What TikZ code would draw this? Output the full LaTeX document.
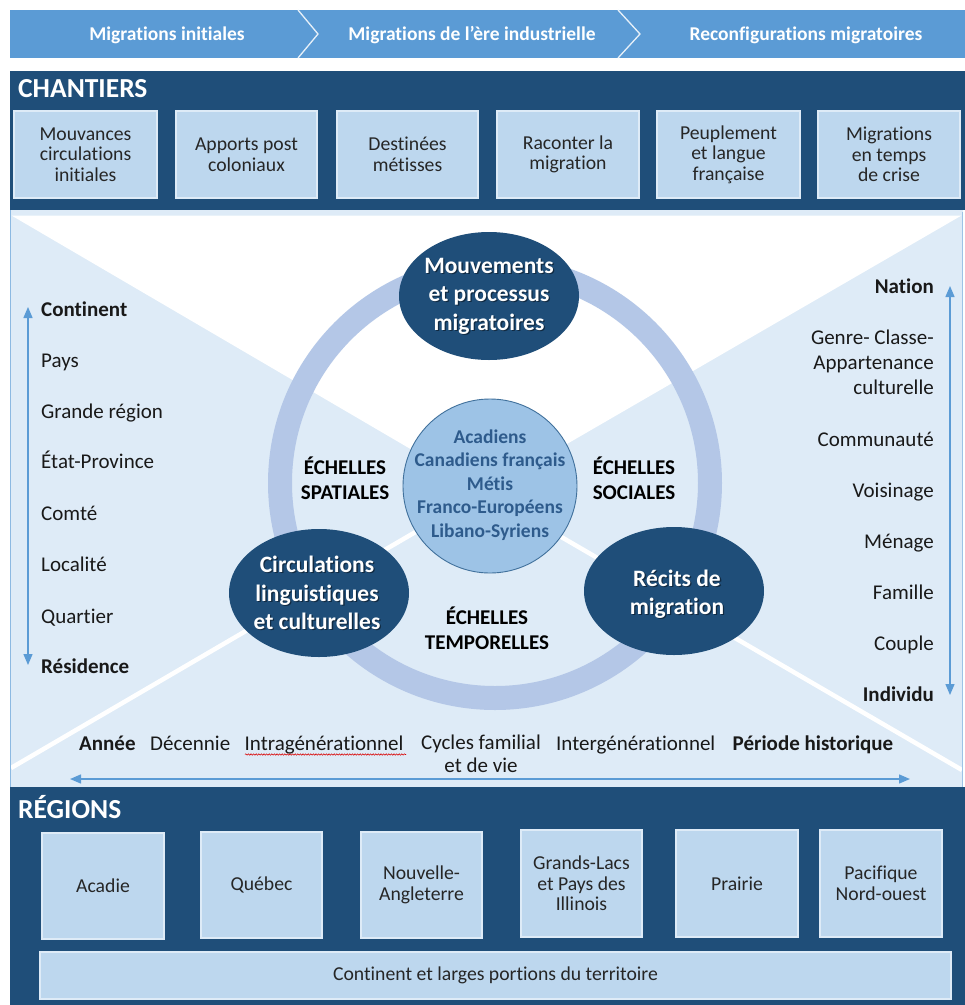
\documentclass[tikz,border=0pt]{standalone}
\usepackage{fontspec}
\setmainfont[Ligatures={NoCommon,NoRare},RawFeature=-liga,RawFeature=-dlig,RawFeature=-calt]{Carlito}
\usetikzlibrary{shapes.geometric,arrows.meta,decorations.pathmorphing}
\definecolor{navy}{HTML}{1F4E79}
\definecolor{midblue}{HTML}{5B9BD5}
\definecolor{boxblue}{HTML}{BDD7EE}
\definecolor{paleblue}{HTML}{DEEBF7}
\definecolor{ringblue}{HTML}{B4C7E7}
\definecolor{coreblue}{HTML}{9DC3E6}
\definecolor{coreedge}{HTML}{41719C}
\definecolor{coretext}{HTML}{2E5B8C}
\definecolor{boxtext}{HTML}{262626}
\newcommand\myfs[2]{\fontsize{#1}{#2}\selectfont}
\begin{document}
\begin{tikzpicture}[x=1pt,y=-1pt,
  bannertext/.style={text=white,font={\myfs{19.5}{23}\bfseries},inner sep=0pt,anchor=base},
  paneltitle/.style={text=white,font={\myfs{27.5}{32}\bfseries},inner sep=0pt,anchor=base west},
  cbox/.style={fill=boxblue,draw=paleblue,line width=1.2pt,text=boxtext,align=center,
     font={\myfs{19.7}{20.5}},inner sep=0pt},
  scalel/.style={text=black!90,font={\myfs{21}{25}},inner sep=0pt,anchor=base west},
  scaler/.style={text=black!90,font={\myfs{21}{25}},inner sep=0pt,anchor=base east},
  scaleb/.style={text=black!90,font={\myfs{21}{23}},inner sep=0pt,anchor=base west},
  strong/.style={font={\myfs{21}{25}\bfseries}},
  oval/.style={ellipse,fill=navy,inner sep=0pt,minimum width=180pt,minimum height=128pt},
  ovaltext/.style={text=white,align=center,font={\myfs{23.5}{28.5}\bfseries},inner sep=0pt},
  ovalshadow/.style={text=black,opacity=0.45,align=center,font={\myfs{23.5}{28.5}\bfseries},inner sep=0pt},
  echelle/.style={text=black,align=center,font={\myfs{21}{24.5}\bfseries},inner sep=0pt},
  scalearrow/.style={midblue,line width=1.4pt,{Triangle[length=11pt,width=9pt]}-{Triangle[length=11pt,width=9pt]}}
]
\useasboundingbox (0,0) rectangle (965,1005);

% ---------- top banner ----------
\fill[midblue] (10,10) rectangle (965,58);
\draw[white!85!midblue,line width=1.3pt] (298,10) -- (318,34) -- (298,58);
\draw[white!85!midblue,line width=1.3pt] (618,10) -- (640,34) -- (618,58);
\node[bannertext] (b1) at (167,40) {Migrations initiales};
\node[bannertext] (b2) at (472,40) {Migrations de l’ère industrielle};
\node[bannertext] (b3) at (806,40) {Reconfigurations migratoires};

% ---------- CHANTIERS ----------
\fill[navy] (10,71) rectangle (965,210);
\node[paneltitle] (chtitle) at (18,97) {CHANTIERS};
\node[cbox,minimum width=143pt,minimum height=87pt] (c1) at (85.5,154.5) {Mouvances\\circulations\\initiales};
\node[cbox,minimum width=141pt,minimum height=87pt] (c2) at (246.5,154.5) {Apports post\\coloniaux};
\node[cbox,minimum width=141pt,minimum height=87pt] (c3) at (407.5,154.5) {Destinées\\métisses};
\node[cbox,minimum width=142pt,minimum height=87pt] (c4) at (568,154.5) {Raconter la\\migration};
\node[cbox,minimum width=143pt,minimum height=87pt] (c5) at (728.5,154.5) {Peuplement\\et langue\\française};
\node[cbox,minimum width=142pt,minimum height=87pt] (c6) at (889,154.5) {Migrations\\en temps\\de crise};

% ---------- middle panel ----------
\fill[paleblue] (10,210) rectangle (963,787);
\coordinate (X) at (484,492);
\coordinate (tl) at (11.5,215.5);
\coordinate (tr) at (961.5,215.5);
\coordinate (blc) at (11,768);
\coordinate (brc) at (962,770);
\fill[white] (tl) -- (tr) -- (X) -- cycle;
\draw[white,line width=4.5pt] (X) -- (blc);
\draw[white,line width=4.5pt] (X) -- (brc);
\draw[midblue!70,line width=1.2pt] (10.6,210) -- (10.6,787);
\draw[coreblue,line width=1pt] (962.5,212) -- (962.5,787);

% ring
\node[circle,draw=ringblue,line width=24pt,minimum size=430pt,inner sep=0pt] (ring) at (495,483) {};

% center circle
\node[circle,fill=coreblue,draw=coreedge,line width=0.9pt,minimum size=174pt,inner sep=0pt] (core) at (490,486) {};
\node[text=coretext,align=center,font={\myfs{19.5}{23.5}\bfseries},inner sep=0pt] (coretxt) at (490,485)
  {Acadiens\\Canadiens français\\Métis\\Franco-Européens\\Libano-Syriens};

% ovals
\node[oval] (mouv) at (489,296) {};
\node[oval] (circ) at (319,593) {};
\node[oval] (recit) at (674,591) {};
\node[ovalshadow] (mouvsh) at ([shift={(1.3,1.3)}]mouv) {Mouvements\\et processus\\migratoires};
\node[ovaltext] (mouvtxt) at (mouv) {Mouvements\\et processus\\migratoires};
\node[ovalshadow] (circsh) at ([shift={(-0.7,1.3)}]circ) {Circulations\\linguistiques\\et culturelles};
\node[ovaltext] (circtxt) at ([shift={(-2,0)}]circ) {Circulations\\linguistiques\\et culturelles};
\node[ovalshadow] (recitsh) at ([shift={(4.3,4.3)}]recit) {Récits de\\migration};
\node[ovaltext] (recittxt) at ([shift={(3,3)}]recit) {Récits de\\migration};

% echelles
\node[echelle] (spat) at (345,478) {ÉCHELLES\\SPATIALES};
\node[echelle] (soc) at (634,478) {ÉCHELLES\\SOCIALES};
\node[echelle] (temp) at (487,628) {ÉCHELLES\\TEMPORELLES};

% left scale
\coordinate (lt) at (28,307);
\coordinate (lb) at (28,665);
\draw[scalearrow] (lt) -- (lb);
\node[scalel,strong] (l1) at (41,316) {Continent};
\node[scalel] (l2) at (41,367) {Pays};
\node[scalel] (l3) at (41,418) {Grande région};
\node[scalel] (l4) at (41,468) {État-Province};
\node[scalel] (l5) at (41,520) {Comté};
\node[scalel] (l6) at (41,571) {Localité};
\node[scalel] (l7) at (41,623) {Quartier};
\node[scalel,strong] (l8) at (41,673) {Résidence};

% right scale
\coordinate (rt) at (950,286);
\coordinate (rb) at (950,695);
\draw[scalearrow] (rt) -- (rb);
\node[scaler,strong] (r1) at (934,293) {Nation};
\node[text=black!90,font={\myfs{21}{25}},inner sep=0pt,align=right,anchor=east] (r2) at (934,362) {Genre- Classe-\\Appartenance\\culturelle};
\node[scaler] (r3) at (934,446) {Communauté};
\node[scaler] (r4) at (934,497) {Voisinage};
\node[scaler] (r5) at (934,548) {Ménage};
\node[scaler] (r6) at (934,599) {Famille};
\node[scaler] (r7) at (934,650) {Couple};
\node[scaler,strong] (r8) at (934,701) {Individu};

% bottom scale
\node[scaleb,strong] (t1) at (79,750) {Année};
\node[scaleb] (t2) at (150,750) {Décennie};
\node[scaleb] (t3) at (244.5,750) {Intragénérationnel};
\node[text=black!90,font={\myfs{21}{23}},inner sep=0pt,align=center] (t4) at (481,754) {Cycles familial\\et de vie};
\node[scaleb] (t5) at (556,750) {Intergénérationnel};
\node[scaleb,strong] (t6) at (732.5,750) {Période historique};
\coordinate (w1) at (245,754.5);
\coordinate (w2) at (406,754.5);
\draw[red!85!black,line width=0.55pt,decorate,decoration={snake,amplitude=0.7pt,segment length=2.6pt}] (w1) -- (w2);
\coordinate (hl) at (70,779);
\coordinate (hr) at (910,779);
\draw[scalearrow] (hl) -- (hr);

% ---------- REGIONS ----------
\fill[navy] (10,787) rectangle (965,1005);
\node[paneltitle] (rgtitle) at (18,818) {RÉGIONS};
\node[cbox,minimum width=122pt,minimum height=106pt] (g1) at (103,886) {Acadie};
\node[cbox,minimum width=121pt,minimum height=106pt] (g2) at (261.5,885) {Québec};
\node[cbox,minimum width=121pt,minimum height=106pt] (g3) at (421.5,885) {Nouvelle-\\Angleterre};
\node[cbox,minimum width=121pt,minimum height=107pt] (g4) at (581.5,883.5) {Grands-Lacs\\et Pays des\\Illinois};
\node[cbox,minimum width=122pt,minimum height=107pt] (g5) at (737,883.5) {Prairie};
\node[cbox,minimum width=122pt,minimum height=107pt] (g6) at (881,883.5) {Pacifique\\Nord-ouest};
\node[cbox,minimum width=911pt,minimum height=47pt] (g7) at (495.5,975.5) {Continent et larges portions du territoire};
\end{tikzpicture}
\end{document}
